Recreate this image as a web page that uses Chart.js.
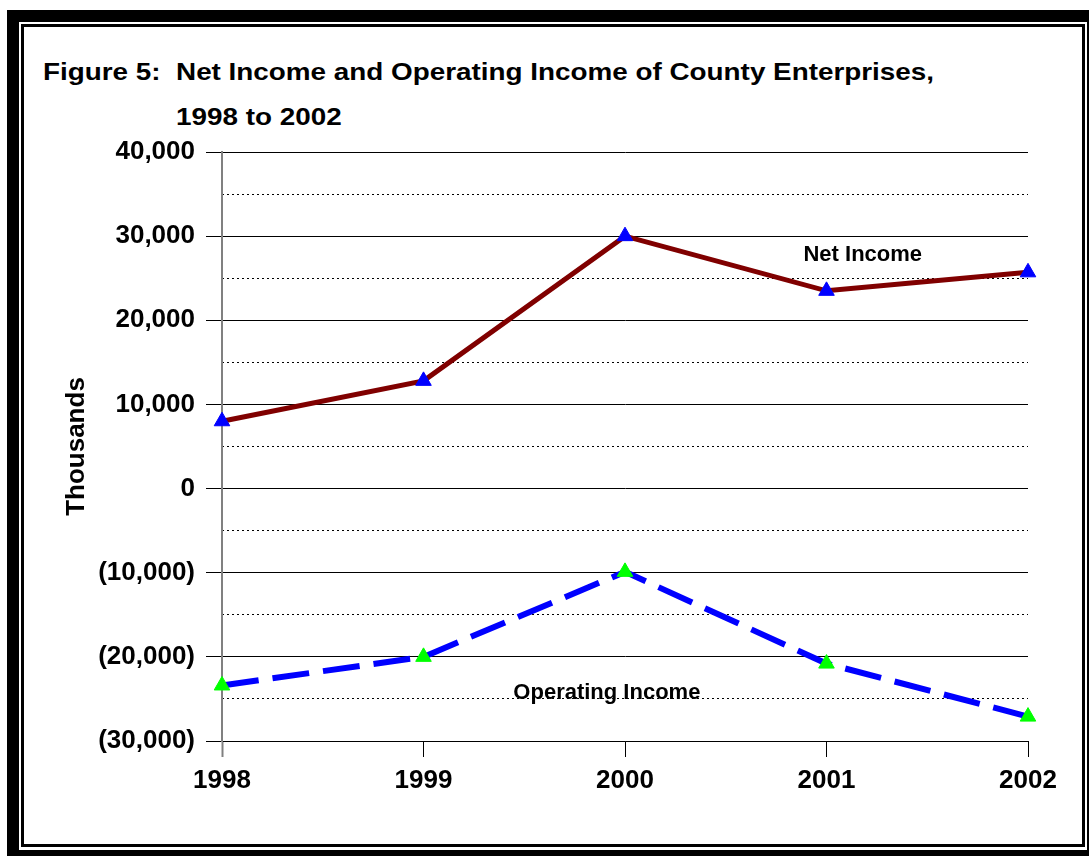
<!DOCTYPE html>
<html>
<head>
<meta charset="utf-8">
<script src="https://cdn.jsdelivr.net/npm/chart.js@4.4.1/dist/chart.umd.min.js"></script>
<style>
  html, body { margin: 0; padding: 0; background: #fff; overflow: hidden; }
  body { width: 1089px; height: 856px; position: relative; font-family: "Liberation Sans", Arial, sans-serif; }
  .frame-outer { position: absolute; left: 7px; top: 10px; width: 1092px; height: 852px; box-sizing: border-box; border: 12px solid #000; }
  .frame-inner { position: absolute; left: 21px; top: 24px; width: 1064px; height: 823px; box-sizing: border-box; border: 3px solid #000; }
  .fig-title { position: absolute; font-weight: bold; font-size: 24px; line-height: 24px; white-space: pre; color: #000; transform-origin: 0 0; transform: scaleX(1.16); }
  #chart { position: absolute; left: 0; top: 0; }
</style>
</head>
<body>
<div class="frame-outer"></div>
<div class="frame-inner"></div>
<div class="fig-title" style="left:43px; top:60px;">Figure 5:  Net Income and Operating Income of County Enterprises,</div>
<div class="fig-title" style="left:176px; top:105px;">1998 to 2002</div>
<canvas id="chart" width="1089" height="856"></canvas>
<script>
// values in thousands of dollars
var years = ['1998', '1999', '2000', '2001', '2002'];
var netIncome = [8000, 12800, 30000, 23500, 25700];
var operatingIncome = [-23400, -20000, -9900, -20800, -27100];
var yMin = -30000;
var yMax = 40000;

// series name labels, placed in data space
var seriesNotes = [
  { text: 'Net Income', x: 3.18, y: 27800 },
  { text: 'Operating Income', x: 1.91, y: -24300 }
];

function fmtThousands(v) {
  var s = Math.abs(v).toLocaleString('en-US');
  return v < 0 ? '(' + s + ')' : s;
}

var notesPlugin = {
  id: 'seriesNotes',
  afterDatasetsDraw: function(chart) {
    var ctx = chart.ctx;
    var xs = chart.scales.x, ys = chart.scales.y;
    ctx.save();
    ctx.font = 'bold 22px "Liberation Sans", Arial, sans-serif';
    ctx.fillStyle = '#000';
    ctx.textAlign = 'center';
    ctx.textBaseline = 'middle';
    seriesNotes.forEach(function(n) {
      ctx.fillText(n.text, xs.getPixelForValue(n.x), ys.getPixelForValue(n.y));
    });
    ctx.restore();
  }
};

var boldFont = { family: '"Liberation Sans", Arial, sans-serif', weight: 'bold', size: 26 };

new Chart(document.getElementById('chart'), {
  type: 'line',
  data: {
    labels: years,
    datasets: [
      {
        label: 'Net Income',
        data: netIncome,
        borderColor: '#800000',
        borderWidth: 5,
        pointStyle: 'triangle',
        pointRadius: 9,
        pointHoverRadius: 9,
        pointBackgroundColor: '#0000ff',
        pointBorderColor: '#0000ff',
        pointBorderWidth: 1,
        tension: 0,
        clip: false
      },
      {
        label: 'Operating Income',
        data: operatingIncome,
        borderColor: '#0000ff',
        borderWidth: 6,
        borderDash: [37, 14],
        pointStyle: 'triangle',
        pointRadius: 9,
        pointHoverRadius: 9,
        pointBackgroundColor: '#00ff00',
        pointBorderColor: '#00ff00',
        pointBorderWidth: 1,
        tension: 0,
        clip: false
      }
    ]
  },
  options: {
    responsive: false,
    animation: false,
    devicePixelRatio: 1,
    layout: { padding: { left: 61, top: 152, right: 61, bottom: 55 } },
    plugins: {
      legend: { display: false },
      tooltip: { enabled: false }
    },
    scales: {
      x: {
        offset: false,
        grid: {
          drawOnChartArea: false,
          tickLength: 16,
          tickColor: function(c) { return c.index === 0 ? '#808080' : '#000'; },
          tickWidth: function(c) { return c.index === 0 ? 2 : 1; }
        },
        border: { color: '#000', width: 1 },
        ticks: { color: '#000', font: boldFont, padding: 8, maxRotation: 0 },
        afterFit: function(s) { s.height = 60; }
      },
      y: {
        min: yMin,
        max: yMax,
        grid: { color: '#000', lineWidth: 1, tickLength: 16, tickColor: '#000' },
        border: { color: '#808080', width: 2 },
        ticks: {
          stepSize: 10000,
          color: '#000',
          font: boldFont,
          padding: 11,
          callback: function(v) { return fmtThousands(v); }
        },
        title: {
          display: true,
          text: 'Thousands',
          color: '#000',
          font: boldFont,
          padding: { top: 0, bottom: 0 }
        },
        afterFit: function(s) { s.width = 161; }
      },
      // dotted half-step lines
      yMinor: {
        position: 'right',
        min: yMin,
        max: yMax,
        grid: { color: '#000', lineWidth: 1, drawTicks: false },
        border: { display: false, dash: [2, 3] },
        ticks: { display: false, stepSize: 5000 },
        afterFit: function(s) { s.width = 0; }
      }
    }
  },
  plugins: [notesPlugin]
});
</script>
</body>
</html>
